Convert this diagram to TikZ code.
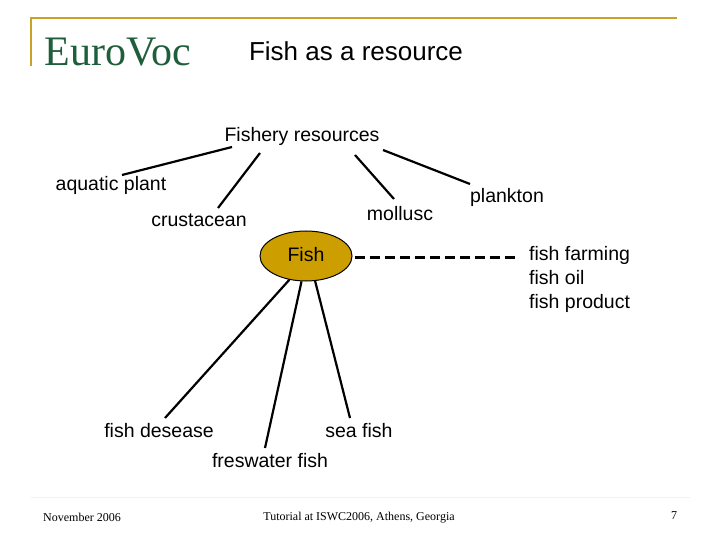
\documentclass[tikz,border=0pt]{standalone}
\usepackage{fontspec}
\usetikzlibrary{shapes.geometric}
\setmainfont{Liberation Serif}
\setsansfont{Liberation Sans}
\definecolor{gold}{HTML}{C9A227}
\definecolor{fishfill}{HTML}{CC9E00}
\definecolor{evgreen}{HTML}{1F5E3B}
\begin{document}
\begin{tikzpicture}[x=1pt,y=-1pt,
  lab/.style={font=\sffamily\fontsize{19.5}{21}\selectfont,inner sep=0pt,anchor=center},
  conn/.style={line width=2.2pt},
  foot/.style={font=\rmfamily\fontsize{12}{14}\selectfont,inner sep=0pt}]
\useasboundingbox (0,0) rectangle (720,540);
\draw[gold,line width=2.5pt] (31,66) -- (31,18) -- (677,18);
\draw[gold!15,line width=1pt] (31,497) -- (690,497);
\node[inner sep=0pt,text=evgreen,font=\rmfamily\fontsize{42}{44}\selectfont,xscale=1] (ev) at (118,52) {EuroVoc};
\node[lab,font=\sffamily\fontsize{26}{28}\selectfont] (title) at (356,51) {Fish as a resource};
\node[lab] (fr) at (302,136) {Fishery resources};
\node[lab] (ap) at (111,185) {aquatic plant};
\node[lab] (cr) at (199,220) {crustacean};
\node[lab] (mo) at (400,214) {mollusc};
\node[lab] (pl) at (507,197) {plankton};
\node[draw=black,line width=1pt,fill=fishfill,ellipse,minimum width=92pt,minimum height=50pt,inner sep=0pt] (fish) at (306,256) {};
\node[lab] at (306,255) {Fish};
\node[lab,align=left,anchor=north west,font=\sffamily\fontsize{19.5}{24}\selectfont] (ff) at (529,246) {fish farming\\fish oil\\fish product};
\node[lab] (fd) at (159,431) {fish desease};
\node[lab] (sf) at (359,431) {sea fish};
\node[lab] (fw) at (270,461) {freswater fish};
\node[foot] (f1) at (82,517) {November 2006};
\node[foot] (f2) at (359,518) {Tutorial at ISWC2006, Athens, Georgia};
\node[foot] (f3) at (674,516) {7};
\coordinate (a1) at (232,147); \coordinate (a2) at (122,175);
\coordinate (b1) at (260,153); \coordinate (b2) at (218,208);
\coordinate (c1) at (355,155); \coordinate (c2) at (394,199);
\coordinate (d1) at (383,150); \coordinate (d2) at (470,184);
\draw[conn] (a1) -- (a2); \draw[conn] (b1) -- (b2);
\draw[conn] (c1) -- (c2); \draw[conn] (d1) -- (d2);
\coordinate (de) at (515,257);
\draw[line width=3pt,dash pattern=on 10pt off 5pt] (355,257) -- (de);
\draw[conn] (fish.235) -- (165,418);
\draw[conn] (fish.260) -- (265,448);
\draw[conn] (fish.290) -- (350,418);
\end{tikzpicture}
\end{document}
